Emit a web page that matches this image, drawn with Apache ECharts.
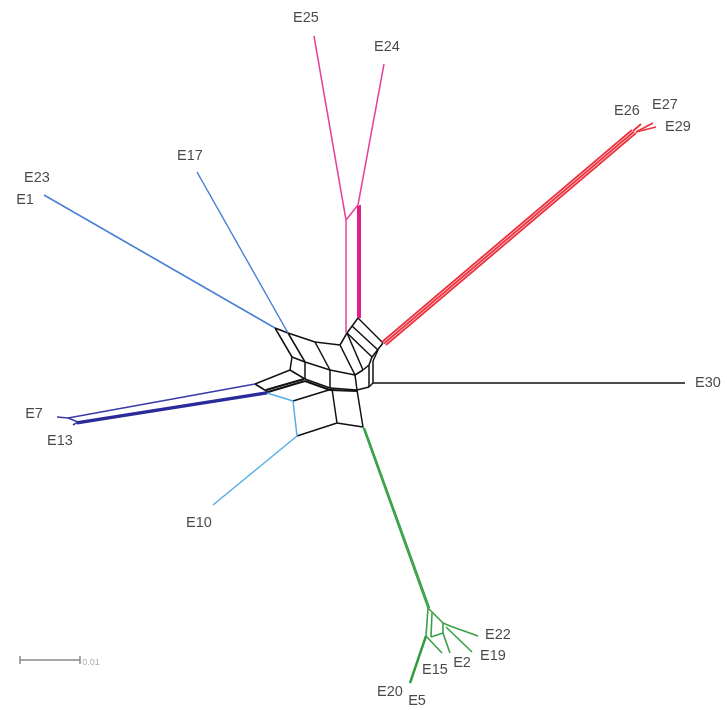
<!DOCTYPE html>
<html><head><meta charset="utf-8">
<script src="https://cdn.jsdelivr.net/npm/echarts@6/dist/echarts.min.js"></script>
<style>html,body{margin:0;padding:0;background:#fff}#c{width:727px;height:710px}</style>
</head><body><div id="c"></div>
<script>
// Network edges as [x1, y1, x2, y2] in network coordinate units
const blackEdges = [
  [275,328,288,333],[288,333,315,342],[315,342,340,345],[340,345,347,333],[347,333,358,318],
  [275,328,292,357],[288,333,305,362],[315,342,330,370],[340,345,355,375],
  [292,357,305,362],[305,362,330,370],[330,370,355,375],
  [292,357,290,370],[305,362,305,379],[330,370,330,388],[355,375,357,390],
  [255,384,290,370],[290,370,305,379],[305,379,330,388],[330,388,357,390],
  [255,384,268,392],
  [293,401,332,389],[332,389,337,423],[297,436,337,423],[337,423,363,427],[357,390,363,427],
  [358,318,383,343],[352,326,378,350],[347,333,372,357],[383,343,372,357],
  [347,333,363,370],[355,375,363,370],[363,370,369,365],[372,357,369,365],
  [369,365,369,387],[373,361,373,383],[357,390,369,387],[369,387,373,383],[373,361,378,350],
  [373,383,685,383]
];
const blackThickEdges = [
  [268,392,305,381],[305,381,330,390],[266,390,304,379],[330,390,357,391]
];
const pinkEdges = [
  [314,36,346,220],[384,64,358,205],[346,220,358,205],[346,220,346,333]
];
const pinkThickEdges = [
  [357.5,206,357.5,318],[359.5,205,359.5,318]
];
const redEdges = [
  [382,342,632,130],[384,343.5,634,131.5],[386,345,636,133],
  [633,131,641,124],[636,132,653,123],[636,132,656,127]
];
const blueEdges = [
  [44,195,275,328],[197,172,288,333]
];
const lightBlueEdges = [
  [267,393,293,401],[293,401,297,436],[297,436,213,505]
];
const navyEdges = [
  [57,417,68,418],[68,418,255,384],[68,418,78,422],[73,425,78,422]
];
const navyThickEdges = [
  [78,422,268,392],[77,423.5,267,393.5]
];
const greenEdges = [
  [363,427,428,608],[364.5,428,429.5,608],
  [428,608,443,623],[443,623,450,626],[450,626,478,636],[446,627,472,652],
  [428,608,426,636],[426,636,442,653],[443,623,443,633],[443,633,450,653],
  [432,613,431,637],[431,637,443,633]
];
const greenThickEdges = [
  [426,636,410,683]
];
const scaleEdges = [
  [20,660,80,660],[20,656,20,664],[80,656,80,664]
];
// Taxon labels
const taxa   = ['E25','E24','E26','E27','E29','E17','E23','E1','E30','E7','E13','E10','E22','E19','E2','E15','E20','E5'];
const labelX = [306,387,627,665,678,190,37,25,708,34,60,199,498,493,462,435,390,417];
const labelY = [18,47,111,105,127,156,178,200,383,414,441,523,635,656,663,670,692,701];
const scaleLabel = '0.01';

function seg(list, color, width) {
  return {
    type: 'lines', coordinateSystem: 'cartesian2d', polyline: false, silent: true,
    lineStyle: { color: color, width: width, opacity: 1 },
    data: list.map(e => ({ coords: [[e[0], e[1]], [e[2], e[3]]] }))
  };
}

const chart = echarts.init(document.getElementById('c'));
chart.setOption({
  animation: false,
  grid: { left: 0, right: 0, top: 0, bottom: 0 },
  xAxis: { type: 'value', min: 0, max: 727, show: false },
  yAxis: { type: 'value', min: 0, max: 710, inverse: true, show: false },
  series: [
    seg(blackEdges, '#111111', 1.5),
    seg(blackThickEdges, '#111111', 2),
    seg(pinkEdges, '#e8409b', 1.5),
    seg(pinkThickEdges, '#e0208a', 2),
    seg(redEdges, '#ee3340', 1.8),
    seg(blueEdges, '#4a7fd6', 1.5),
    seg(lightBlueEdges, '#55aee6', 1.5),
    seg(navyEdges, '#3a3aa8', 1.5),
    seg(navyThickEdges, '#2a2a9a', 1.8),
    seg(greenEdges, '#3aa048', 1.6),
    seg(greenThickEdges, '#2f9a3e', 2.4),
    seg(scaleEdges, '#888888', 1.5),
    {
      type: 'scatter', symbolSize: 0, silent: true,
      data: taxa.map((t, i) => ({ value: [labelX[i], labelY[i]], name: t })),
      label: { show: true, position: 'inside', formatter: p => p.name,
        fontFamily: 'Liberation Sans, Arial, sans-serif', fontSize: 14.5, color: '#1a1a1a' }
    },
    {
      type: 'scatter', symbolSize: 0, silent: true,
      data: [{ value: [91, 663], name: scaleLabel }],
      label: { show: true, position: 'inside', formatter: p => p.name,
        fontFamily: 'Liberation Sans, Arial, sans-serif', fontSize: 9, color: '#999' }
    }
  ]
});
</script></body></html>
